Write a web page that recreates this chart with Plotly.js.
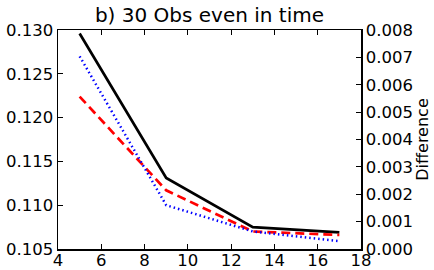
<!DOCTYPE html>
<html><head><meta charset="utf-8">
<script src="https://cdn.plot.ly/plotly-3.0.1.min.js"></script>
<style>html,body{margin:0;padding:0;background:#fff}#c{width:434px;height:270px}</style>
</head><body><div id="c"></div>
<script>
const obsCount = [5, 9, 13, 17];
const blackSolid = [0.1296, 0.1131, 0.1075, 0.1069];
const redDashed = [0.1224, 0.1117, 0.1070, 0.1066];
const blueDotted = [0.1270, 0.1100, 0.1070, 0.1059];
const xTicks = [4, 6, 8, 10, 12, 14, 16, 18];
const yTicks = [0.105, 0.110, 0.115, 0.120, 0.125, 0.130];
const y2Ticks = [0, 0.001, 0.002, 0.003, 0.004, 0.005, 0.006, 0.007, 0.008];
const fnt = {family: 'DejaVu Sans', size: 16.5, color: '#000'};
const traces = [
  {x: obsCount, y: blackSolid, mode: 'lines', line: {color: '#000', width: 2.7, dash: 'solid'}},
  {x: obsCount, y: redDashed, mode: 'lines', line: {color: '#ff0000', width: 2.7, dash: '9px,5px'}},
  {x: obsCount, y: blueDotted, mode: 'lines', line: {color: '#0000ff', width: 2.5, dash: '1.5px,3px'}},
  {x: [], y: [], yaxis: 'y2', mode: 'lines', hoverinfo: 'skip'}
];
const layout = {
  width: 434, height: 270, showlegend: false,
  paper_bgcolor: '#fff', plot_bgcolor: '#fff',
  margin: {l: 58, r: 73, t: 30, b: 21},
  title: {text: 'b) 30 Obs even in time', font: {family: 'DejaVu Sans', size: 20, color: '#000'}, xref: 'paper', x: 0.5, xanchor: 'center', yref: 'container', y: 0.945, yanchor: 'middle'},
  xaxis: {range: [4, 18], tickvals: xTicks, ticktext: xTicks.map(String), ticks: 'inside', ticklen: 5, tickwidth: 1, tickcolor: '#000',
    ticklabelstandoff: -4,
    showline: true, linecolor: '#000', linewidth: 1.5, mirror: 'ticks', showgrid: false, zeroline: false, tickfont: fnt},
  yaxis: {range: [0.105, 0.130], tickvals: yTicks, ticktext: yTicks.map(v => v.toFixed(3)), ticks: 'inside', ticklen: 5, tickwidth: 1, tickcolor: '#000',
    showline: true, linecolor: '#000', linewidth: 1.5, mirror: true, showgrid: false, zeroline: false, tickfont: fnt},
  yaxis2: {overlaying: 'y', side: 'right', range: [0, 0.008], tickvals: y2Ticks, ticktext: y2Ticks.map(v => v.toFixed(3)), ticks: 'inside', ticklen: 5, tickwidth: 1, tickcolor: '#000',
    showline: true, linecolor: '#000', linewidth: 1.5, showgrid: false, zeroline: false, tickfont: fnt,
    title: {text: 'Difference', font: {family: 'DejaVu Sans', size: 16, color: '#000'}, standoff: 2}}
};
Plotly.newPlot('c', traces, layout, {staticPlot: true, displayModeBar: false});
</script></body></html>
